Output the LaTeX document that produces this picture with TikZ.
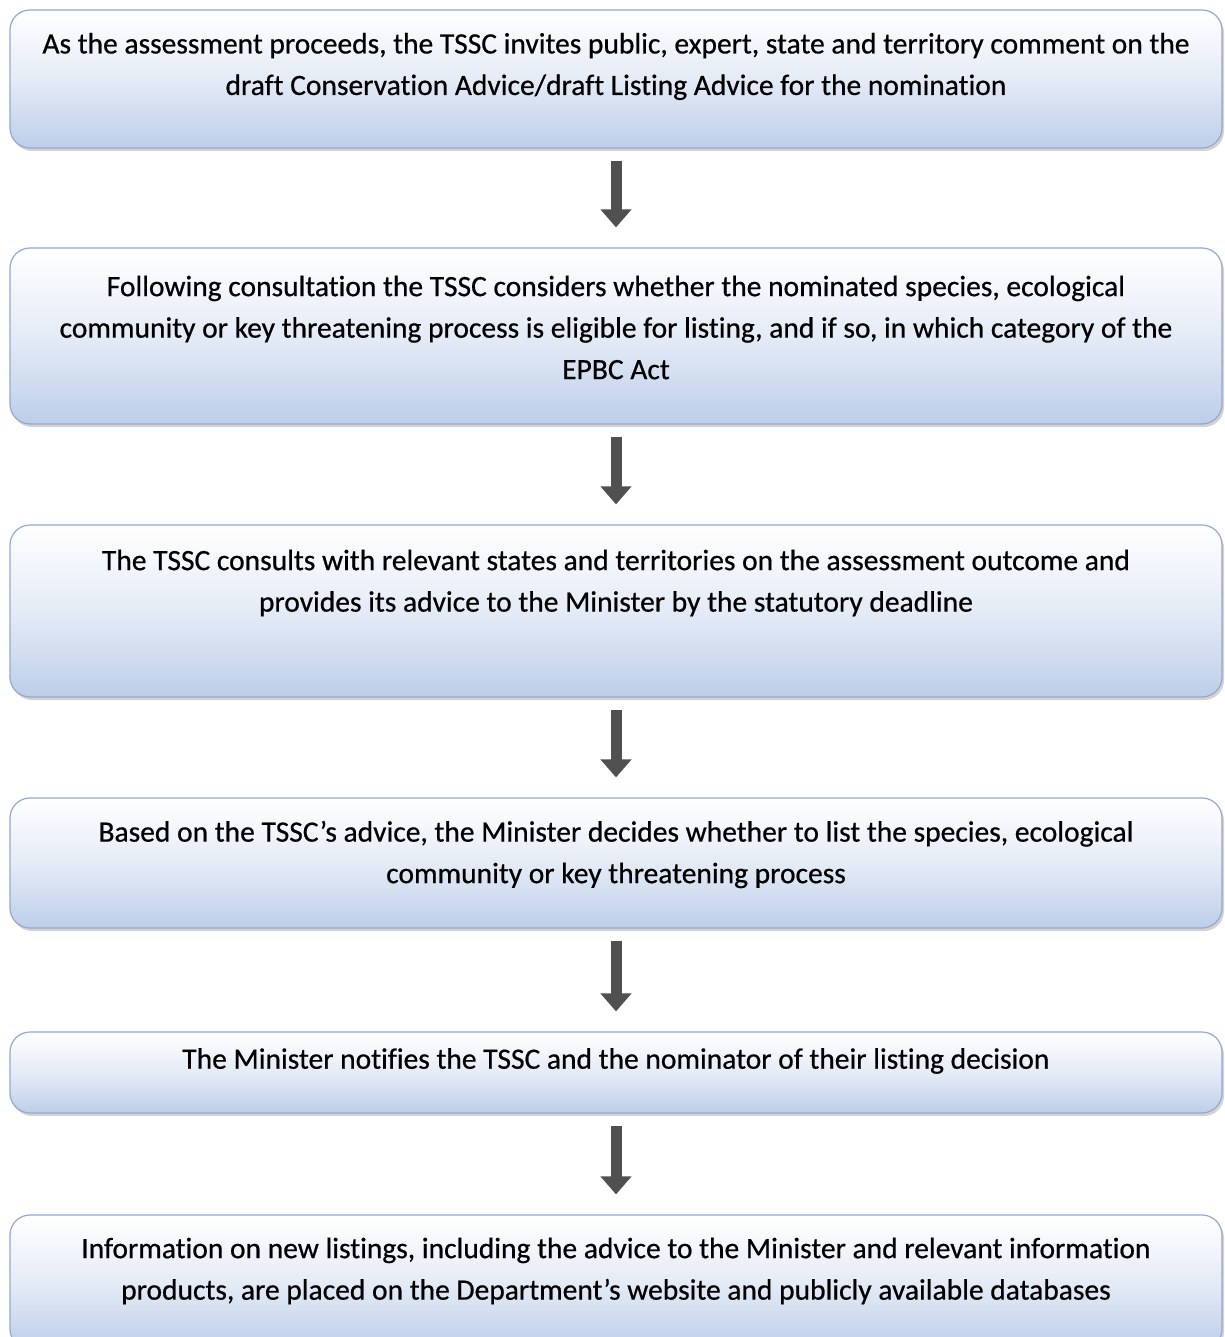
\documentclass[tikz,border=0pt]{standalone}
\usepackage{fontspec}
\setmainfont{Carlito}[RawFeature=-liga,UprightFeatures={FakeBold=0.6}]
\usetikzlibrary{arrows.meta,shadows}
\definecolor{boxbot}{HTML}{BDCEE9}
\definecolor{boxline}{HTML}{93A8D2}
\definecolor{arrowgray}{HTML}{505050}
\tikzset{
  stepbox/.style={draw=boxline, line width=1.2pt, rounded corners=20pt,
    top color=white, bottom color=boxbot, middle color=white!60!boxbot,
    shading angle=0,
    drop shadow={shadow xshift=2pt, shadow yshift=-3pt, opacity=0.35, fill=gray},
    minimum width=1212pt, inner sep=0pt},
  steptext/.style={align=center, inner sep=0pt, font=\fontsize{29.5}{41.5}\selectfont},
  flowarrow/.style={draw=arrowgray, line width=11pt,
    -{Triangle[width=30pt,length=18pt]}, shorten <=12pt, shorten >=20pt}
}
\begin{document}
\begin{tikzpicture}[x=1pt,y=-1pt]
\useasboundingbox (0,0) rectangle (1224,1337);
\node[stepbox, minimum height=138pt] (b1) at (616,79) {};
\node[stepbox, minimum height=176pt] (b2) at (616,336) {};
\node[stepbox, minimum height=172pt] (b3) at (616,611) {};
\node[stepbox, minimum height=130pt] (b4) at (616,863) {};
\node[stepbox, minimum height=81pt] (b5) at (616,1072.5) {};
\node[stepbox, minimum height=134pt] (b6) at (616,1282) {};
\node[steptext] (t1) at (616,66.5) {As the assessment proceeds, the TSSC invites public, expert, state and territory comment on the\\draft Conservation Advice/draft Listing Advice for the nomination};
\node[steptext] (t2) at (616,327.5) {Following consultation the TSSC considers whether the nominated species, ecological\\community or key threatening process is eligible for listing, and if so, in which category of the\\EPBC Act};
\node[steptext] (t3) at (616,583) {The TSSC consults with relevant states and territories on the assessment outcome and\\provides its advice to the Minister by the statutory deadline};
\node[steptext] (t4) at (616,854.5) {Based on the TSSC’s advice, the Minister decides whether to list the species, ecological\\community or key threatening process};
\node[steptext] (t5) at (616,1061) {The Minister notifies the TSSC and the nominator of their listing decision};
\node[steptext] (t6) at (616,1271) {Information on new listings, including the advice to the Minister and relevant information\\products, are placed on the Department’s website and publicly available databases};
\draw[flowarrow] (b1.south) -- (b2.north);
\draw[flowarrow] (b2.south) -- (b3.north);
\draw[flowarrow] (b3.south) -- (b4.north);
\draw[flowarrow] (b4.south) -- (b5.north);
\draw[flowarrow] (b5.south) -- (b6.north);
\end{tikzpicture}
\end{document}
